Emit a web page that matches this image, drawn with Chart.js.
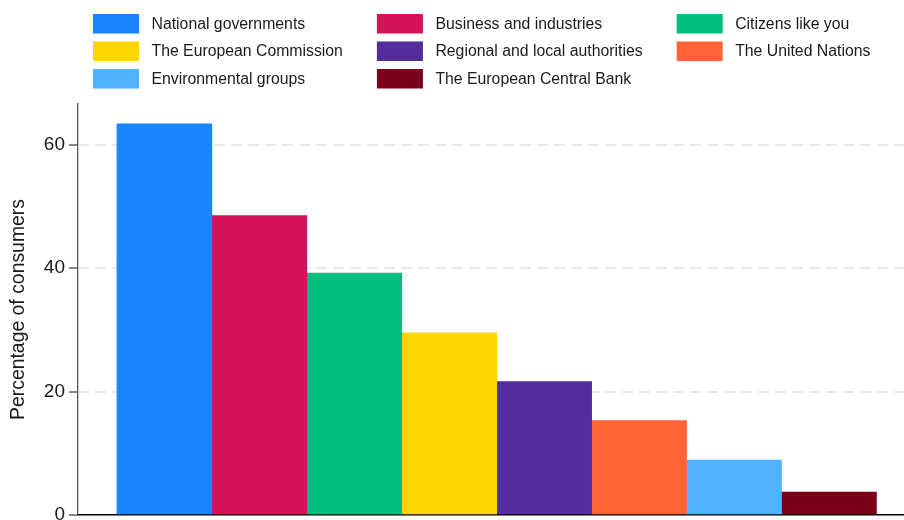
<!DOCTYPE html>
<html>
<head>
<meta charset="utf-8">
<title>Trust in institutions</title>
<script src="https://cdn.jsdelivr.net/npm/chart.js@4/dist/chart.umd.min.js"></script>
<style>
  html, body { margin: 0; padding: 0; background: #ffffff; overflow: hidden; }
  #wrap { position: relative; width: 904px; height: 520px; }
</style>
</head>
<body>
<div id="wrap"><canvas id="chart"></canvas></div>
<script>
// Institutions, in bar order (left to right) and legend order (row by row)
const institutions = [
  'National governments',
  'Business and industries',
  'Citizens like you',
  'The European Commission',
  'Regional and local authorities',
  'The United Nations',
  'Environmental groups',
  'The European Central Bank'
];

// Share of consumers naming each institution (%)
const shares = [63.4, 48.5, 39.2, 29.5, 21.6, 15.3, 8.9, 3.7];

// Slot of each bar along the horizontal axis
const barSlots = [1, 2, 3, 4, 5, 6, 7, 8];

const barColors = [
  '#1a85ff', '#d41159', '#00bf7f', '#ffd400',
  '#522d9b', '#ff6437', '#4fb3ff', '#7a0019'
];

const yTickValues = [0, 20, 40, 60];
const yAxisTitle = 'Percentage of consumers';

const FONT = "'Liberation Sans', Arial, Helvetica, sans-serif";
Chart.defaults.font.family = FONT;
Chart.defaults.color = '#1a1a1a';

// Three-column legend with columns sized to their longest label
const gridLegend = {
  id: 'gridLegend',
  afterDraw(chart, args, opts) {
    const ctx = chart.ctx;
    const items = chart.data.datasets.map(d => ({ text: d.label, color: d.backgroundColor }));
    const cols = opts.columns;
    ctx.save();
    ctx.font = opts.fontSize + 'px ' + FONT;
    const colWidths = [];
    for (let c = 0; c < cols; c++) {
      let w = 0;
      for (let i = c; i < items.length; i += cols) {
        w = Math.max(w, ctx.measureText(items[i].text).width);
      }
      colWidths.push(w);
    }
    const colX = [];
    let x = chart.chartArea.left + opts.offsetX;
    for (let c = 0; c < cols; c++) {
      colX.push(x);
      x += opts.boxWidth + opts.textGap + colWidths[c] + opts.colGap;
    }
    ctx.textBaseline = 'middle';
    ctx.textAlign = 'left';
    items.forEach((it, i) => {
      const r = Math.floor(i / cols);
      const c = i % cols;
      const bx = colX[c];
      const by = opts.top + r * opts.rowPitch;
      ctx.fillStyle = it.color;
      ctx.fillRect(bx, by, opts.boxWidth, opts.boxHeight);
      ctx.fillStyle = opts.color;
      ctx.fillText(it.text, bx + opts.boxWidth + opts.textGap, by + opts.boxHeight / 2 + 0.5);
    });
    ctx.restore();
  }
};

const datasets = institutions.map((name, i) => ({
  label: name,
  data: [{ x: barSlots[i], y: shares[i] }],
  backgroundColor: barColors[i],
  borderWidth: 0,
  grouped: false,
  barPercentage: 1,
  categoryPercentage: 1
}));

new Chart(document.getElementById('chart'), {
  type: 'bar',
  data: { datasets },
  plugins: [gridLegend],
  options: {
    responsive: true,
    maintainAspectRatio: false,
    animation: false,
    layout: { padding: { top: 104, left: 0, right: 0, bottom: 5 } },
    plugins: {
      legend: { display: false },
      tooltip: { enabled: false },
      gridLegend: {
        columns: 3,
        offsetX: 15,
        top: 14,
        rowPitch: 27.5,
        boxWidth: 46,
        boxHeight: 19.5,
        textGap: 12.5,
        colGap: 34,
        fontSize: 15.8,
        color: '#1a1a1a'
      }
    },
    scales: {
      x: {
        type: 'linear',
        offset: false,
        min: 0.09,
        max: 8.79,
        ticks: { display: false },
        grid: { display: false, drawTicks: false, offset: false },
        border: { display: true, color: '#000000', width: 1.6 },
        afterBuildTicks(axis) {
          axis.ticks = barSlots.map(v => ({ value: v }));
        },
        afterFit(axis) {
          axis.height = 0;
          axis.paddingLeft = 0;
          axis.paddingRight = 0;
        }
      },
      y: {
        type: 'linear',
        min: 0,
        max: 66.6,
        afterBuildTicks(axis) {
          axis.ticks = yTickValues.map(v => ({ value: v }));
        },
        ticks: {
          padding: 4,
          font: { size: 19 },
          color: '#1a1a1a'
        },
        grid: {
          color: c => (c.tick && c.tick.value === 0) ? 'rgba(0,0,0,0)' : '#e8e8e8',
          lineWidth: 2,
          drawTicks: true,
          tickLength: 9,
          tickColor: '#444444',
          tickWidth: 1.3,
          tickBorderDash: []
        },
        border: { display: true, color: '#555555', width: 1.3, dash: [10.5, 6.5] },
        title: {
          display: true,
          text: yAxisTitle,
          font: { size: 19.4 },
          color: '#1a1a1a',
          padding: { top: 7, bottom: 0 }
        },
        afterFit(axis) {
          axis.width = 78;
          axis.paddingTop = 0;
          axis.paddingBottom = 0;
        }
      }
    }
  }
});
</script>
</body>
</html>
